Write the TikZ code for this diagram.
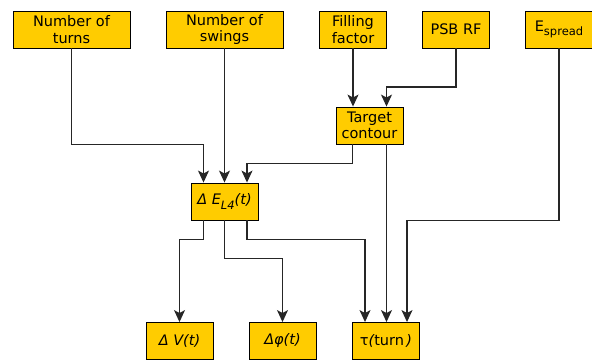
\documentclass[tikz,border=0pt]{standalone}
\usepackage{fontspec}
\setmainfont{DejaVu Sans}
\usetikzlibrary{arrows.meta}

\definecolor{boxyellow}{HTML}{FFCC00}
\newcommand{\lowsub}[1]{\raisebox{-4.5pt}{\fontsize{11.5}{11.5}\selectfont #1}}
\tikzset{
  param/.style={draw=black, fill=boxyellow, line width=0.9pt, align=center,
    inner sep=0pt, minimum height=37pt,
    font=\fontsize{14.5}{16.5}\selectfont},
  wide/.style={param, minimum width=117pt},
  narrow/.style={param, minimum width=67pt},
  link/.style={->, line width=1.2pt, draw=black!85}
}

\begin{document}
\begin{tikzpicture}[x=1pt, y=-1pt, >={Stealth[length=12pt,width=11pt,inset=3pt]}]
\useasboundingbox (0,0) rectangle (592,359);
% inputs
\node[wide]   (turns)   at (71.5,29.5)  {Number of\\turns};
\node[wide]   (swings)  at (224.5,29.5) {Number of\\swings};
\node[narrow] (filling) at (353,29.5)   {Filling\\factor};
\node[narrow] (psbrf)   at (456,29.5)   {PSB RF};
\node[narrow] (spread)  at (559,29.5)   {E\lowsub{spread}};
% intermediate
\node[narrow] (target)  at (369.5,125.5) {Target\\contour};
\node[narrow] (deltaE)  at (224.5,201.5) {\itshape Δ E\lowsub{L4}(t)};
% outputs
\node[narrow] (deltaV)  at (179.5,341)  {\itshape Δ V(t)};
\node[narrow] (dphi)    at (282.5,341)  {\itshape Δφ(t)};
\node[narrow] (tau)     at (386,341)    {τ{\itshape (}turn{\itshape\,)}};

\draw[link] (turns.south) -- ++(0,96) -| ([xshift=-21pt]deltaE.north);
\draw[link] (swings.south) -- (deltaE.north);
\draw[link] ([xshift=-17pt]target.south) -- ++(0,19) -| ([xshift=22.5pt]deltaE.north);
\draw[link] (filling.south) -- (filling.south |- target.north);
\draw[link] (psbrf.south) -- ++(0,38.5) -| ([xshift=17pt]target.north);
\draw[link] ([xshift=17pt]target.south) -- ([xshift=17pt]target.south |- tau.north);
\draw[link] (spread.south) -- ++(0,172) -| ([xshift=21pt]tau.north);

\draw[link] ([xshift=-21pt]deltaE.south) -- ++(0,19) -| (deltaV.north);
\draw[link] (deltaE.south) -- ++(0,38) -| (dphi.north);
\draw[link] ([xshift=22.5pt]deltaE.south) -- ++(0,19) -| ([xshift=-21pt]tau.north);
\end{tikzpicture}
\end{document}
